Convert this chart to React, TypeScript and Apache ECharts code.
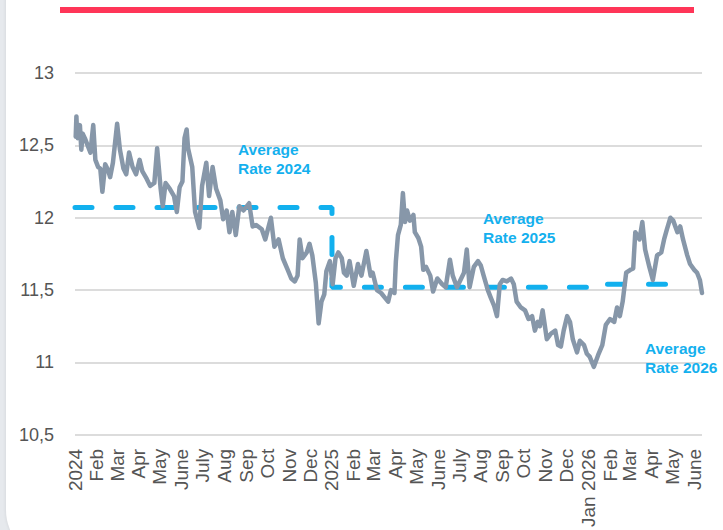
import React, { useEffect, useRef } from 'react';
import * as echarts from 'echarts';

const monthLabelDates = [
  '2024-01-01', '2024-02-01', '2024-03-01', '2024-04-01', '2024-05-01', '2024-06-01',
  '2024-07-01', '2024-08-01', '2024-09-01', '2024-10-01', '2024-11-01', '2024-12-01',
  '2025-01-01', '2025-02-01', '2025-03-01', '2025-04-01', '2025-05-01', '2025-06-01',
  '2025-07-01', '2025-08-01', '2025-09-01', '2025-10-01', '2025-11-01', '2025-12-01',
  '2026-01-01', '2026-02-01', '2026-03-01', '2026-04-01', '2026-05-01', '2026-06-01',
];
const monthLabels = [
  '2024', 'Feb', 'Mar', 'Apr', 'May', 'June', 'July', 'Aug', 'Sep', 'Oct', 'Nov', 'Dec',
  '2025', 'Feb', 'Mar', 'Apr', 'May', 'June', 'July', 'Aug', 'Sep', 'Oct', 'Nov', 'Dec',
  'Jan 2026', 'Feb', 'Mar', 'Apr', 'May', 'June',
];

const axisStart = '2024-01-01';
const axisEnd = '2026-06-12';
const yMin = 10.5;
const yMax = 13;
const yStep = 0.5;

const rateData: [string, number][] = [
  ['2024-01-02', 12.56], ['2024-01-03', 12.70], ['2024-01-04', 12.58], ['2024-01-05', 12.55],
  ['2024-01-08', 12.64], ['2024-01-10', 12.47], ['2024-01-12', 12.58], ['2024-01-15', 12.55],
  ['2024-01-19', 12.50], ['2024-01-23', 12.45], ['2024-01-25', 12.55], ['2024-01-27', 12.64],
  ['2024-01-30', 12.40], ['2024-02-03', 12.35], ['2024-02-06', 12.34],
  ['2024-02-09', 12.18], ['2024-02-13', 12.37], ['2024-02-17', 12.33], ['2024-02-20', 12.28],
  ['2024-02-24', 12.38], ['2024-03-01', 12.65], ['2024-03-05', 12.47], ['2024-03-10', 12.34],
  ['2024-03-14', 12.30], ['2024-03-18', 12.45], ['2024-03-23', 12.35], ['2024-03-28', 12.30],
  ['2024-04-02', 12.40], ['2024-04-06', 12.32], ['2024-04-12', 12.27], ['2024-04-17', 12.22],
  ['2024-04-23', 12.24], ['2024-04-27', 12.48], ['2024-05-02', 12.20], ['2024-05-05', 12.08],
  ['2024-05-09', 12.24], ['2024-05-15', 12.20], ['2024-05-21', 12.15], ['2024-05-25', 12.04],
  ['2024-05-29', 12.21], ['2024-06-02', 12.25], ['2024-06-05', 12.55], ['2024-06-08', 12.61],
  ['2024-06-10', 12.48], ['2024-06-16', 12.35], ['2024-06-20', 12.04], ['2024-06-26', 11.93],
  ['2024-06-30', 12.22], ['2024-07-06', 12.38], ['2024-07-10', 12.15], ['2024-07-15', 12.35],
  ['2024-07-20', 12.20], ['2024-07-26', 12.12], ['2024-07-30', 11.99], ['2024-08-04', 12.05],
  ['2024-08-08', 11.90], ['2024-08-12', 12.04], ['2024-08-17', 11.88], ['2024-08-22', 12.08],
  ['2024-08-28', 12.05], ['2024-09-05', 12.10], ['2024-09-10', 11.94], ['2024-09-15', 11.95],
  ['2024-09-23', 11.92], ['2024-09-28', 11.85], ['2024-10-06', 12.00], ['2024-10-11', 11.80],
  ['2024-10-17', 11.85], ['2024-10-23', 11.72], ['2024-10-30', 11.64], ['2024-11-04', 11.58],
  ['2024-11-09', 11.56], ['2024-11-13', 11.60], ['2024-11-16', 11.85], ['2024-11-20', 11.72],
  ['2024-11-26', 11.76], ['2024-11-30', 11.82], ['2024-12-04', 11.74], ['2024-12-09', 11.55],
  ['2024-12-13', 11.27], ['2024-12-17', 11.42], ['2024-12-21', 11.47], ['2024-12-24', 11.63],
  ['2024-12-29', 11.70], ['2025-01-02', 11.54], ['2025-01-06', 11.72], ['2025-01-10', 11.76],
  ['2025-01-15', 11.72], ['2025-01-18', 11.62], ['2025-01-22', 11.60], ['2025-01-26', 11.70],
  ['2025-02-01', 11.53], ['2025-02-07', 11.68], ['2025-02-12', 11.60], ['2025-02-19', 11.77],
  ['2025-02-25', 11.60], ['2025-02-28', 11.62], ['2025-03-06', 11.50], ['2025-03-12', 11.48],
  ['2025-03-17', 11.45], ['2025-03-22', 11.42], ['2025-03-26', 11.50], ['2025-03-31', 11.48],
  ['2025-04-02', 11.70], ['2025-04-05', 11.88], ['2025-04-09', 11.95], ['2025-04-12', 12.17],
  ['2025-04-15', 11.97], ['2025-04-18', 12.05], ['2025-04-22', 11.98], ['2025-04-27', 12.02],
  ['2025-04-29', 11.90], ['2025-05-04', 11.86], ['2025-05-08', 11.80], ['2025-05-11', 11.64],
  ['2025-05-15', 11.66], ['2025-05-21', 11.60], ['2025-05-25', 11.49], ['2025-05-31', 11.58],
  ['2025-06-07', 11.54], ['2025-06-12', 11.52], ['2025-06-18', 11.71], ['2025-06-22', 11.60],
  ['2025-06-28', 11.52], ['2025-07-03', 11.57], ['2025-07-08', 11.62], ['2025-07-12', 11.78],
  ['2025-07-16', 11.52], ['2025-07-22', 11.66], ['2025-07-28', 11.70], ['2025-08-01', 11.67],
  ['2025-08-05', 11.60], ['2025-08-11', 11.50], ['2025-08-15', 11.45], ['2025-08-20', 11.39],
  ['2025-08-24', 11.32], ['2025-08-28', 11.54], ['2025-09-01', 11.57], ['2025-09-07', 11.56],
  ['2025-09-13', 11.58], ['2025-09-17', 11.54], ['2025-09-21', 11.42], ['2025-09-27', 11.38],
  ['2025-10-03', 11.36], ['2025-10-08', 11.30], ['2025-10-13', 11.32], ['2025-10-17', 11.22],
  ['2025-10-21', 11.28], ['2025-10-24', 11.25], ['2025-10-28', 11.36], ['2025-11-03', 11.16],
  ['2025-11-09', 11.20], ['2025-11-15', 11.22], ['2025-11-19', 11.12], ['2025-11-23', 11.11],
  ['2025-11-27', 11.22], ['2025-12-02', 11.32], ['2025-12-06', 11.28], ['2025-12-10', 11.16],
  ['2025-12-16', 11.07], ['2025-12-20', 11.15], ['2025-12-26', 11.12], ['2025-12-30', 11.06],
  ['2026-01-03', 11.04], ['2026-01-09', 10.97], ['2026-01-15', 11.05], ['2026-01-21', 11.12],
  ['2026-01-26', 11.26], ['2026-02-01', 11.30], ['2026-02-07', 11.28], ['2026-02-11', 11.38],
  ['2026-02-15', 11.32], ['2026-02-19', 11.42], ['2026-02-24', 11.62], ['2026-03-02', 11.64],
  ['2026-03-06', 11.65], ['2026-03-09', 11.90], ['2026-03-15', 11.85], ['2026-03-19', 11.97],
  ['2026-03-23', 11.78], ['2026-03-29', 11.66], ['2026-04-03', 11.57], ['2026-04-09', 11.74],
  ['2026-04-15', 11.76], ['2026-04-19', 11.85], ['2026-04-23', 11.92], ['2026-04-28', 12.00],
  ['2026-05-02', 11.98], ['2026-05-08', 11.90], ['2026-05-12', 11.94], ['2026-05-16', 11.85],
  ['2026-05-22', 11.74], ['2026-05-26', 11.68], ['2026-06-01', 11.64], ['2026-06-05', 11.62],
  ['2026-06-09', 11.57], ['2026-06-12', 11.48],
];

const avgDates = ['2024-01-01', '2025-01-01', '2026-01-01', '2026-05-25'];
const avgValues = [12.07, 11.52, 11.54, 11.54];

const annotationTexts = ['Average\nRate 2024', 'Average\nRate 2025', 'Average\nRate 2026'];

const ts = (s: string) => {
  const [y, m, d] = s.split('-').map(Number);
  return Date.UTC(y, m - 1, d);
};

const FONT = '"Liberation Sans", Arial, Helvetica, sans-serif';

export default function App() {
  const ref = useRef<HTMLDivElement>(null);

  useEffect(() => {
    if (!ref.current) return;
    const chart = echarts.init(ref.current, undefined, { renderer: 'svg' });
    const labelMap = new Map<number, string>();
    monthLabelDates.forEach((d, i) => labelMap.set(ts(d), monthLabels[i]));

    const annPos = [
      { x: 238, y: 140 },
      { x: 483, y: 209 },
      { x: 645, y: 339 },
    ];

    chart.setOption({
      animation: false,
      backgroundColor: 'transparent',
      grid: { left: 75, right: 21, top: 73, bottom: 94 },
      xAxis: {
        type: 'value',
        min: ts(axisStart),
        max: ts(axisEnd),
        axisLine: { show: false },
        axisTick: { show: false },
        splitLine: { show: false },
        axisLabel: {
          customValues: monthLabelDates.map(ts),
          formatter: (v: number) => labelMap.get(v) ?? '',
          rotate: 90,
          margin: 14,
          fontSize: 19,
          fontFamily: FONT,
          color: '#555555',
          hideOverlap: false,
          showMinLabel: true,
          showMaxLabel: true,
        },
      },
      yAxis: {
        type: 'value',
        min: yMin,
        max: yMax,
        interval: yStep,
        axisLine: { show: false },
        axisTick: { show: false },
        splitLine: { show: true, lineStyle: { color: '#dcdcdc', width: 2 } },
        axisLabel: {
          formatter: (v: number) => String(v).replace('.', ','),
          margin: 21,
          fontSize: 18,
          fontFamily: FONT,
          color: '#555555',
        },
      },
      series: [
        {
          type: 'line',
          step: 'end',
          data: avgDates.map((d, i) => [ts(d), avgValues[i]]),
          showSymbol: false,
          lineStyle: { color: '#12b0ee', width: 5, type: [17, 24], cap: 'round' },
          z: 2,
        },
        {
          type: 'line',
          data: rateData.map(([d, v]) => [ts(d), v]),
          showSymbol: false,
          lineStyle: { color: '#8797a9', width: 4.5, join: 'round', cap: 'round' },
          z: 3,
        },
      ],
      graphic: [
        {
          type: 'rect',
          shape: { x: 60, y: 7, width: 634, height: 6 },
          style: { fill: '#ff3558' },
        },
        ...annotationTexts.map((t, i) => ({
          type: 'text',
          x: annPos[i].x,
          y: annPos[i].y,
          z: 10,
          style: {
            text: t,
            fill: '#14b0ee',
            font: `bold 15.5px ${FONT}`,
            lineHeight: 19,
            align: 'left',
            verticalAlign: 'top',
          },
        })),
      ],
    });
    return () => chart.dispose();
  }, []);

  return (
    <div
      style={{
        position: 'fixed',
        left: 0,
        top: 0,
        width: 723,
        height: 530,
        overflow: 'hidden',
        background: '#e6e9ed',
      }}
    >
      <div
        style={{
          position: 'absolute',
          left: 6,
          top: -60,
          width: 780,
          height: 620,
          background: '#ffffff',
          borderRadius: 50,
          boxShadow: '-1px 0 3px rgba(0,0,0,0.06)',
        }}
      />
      <div ref={ref} style={{ position: 'absolute', left: 0, top: 0, width: 723, height: 530 }} />
    </div>
  );
}
